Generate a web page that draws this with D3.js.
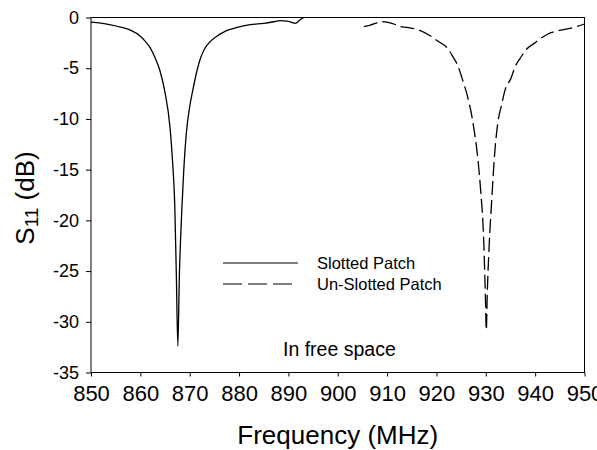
<!DOCTYPE html>
<html>
<head>
<meta charset="utf-8">
<script src="https://cdn.jsdelivr.net/npm/d3@7/dist/d3.min.js"></script>
<style>
  body { margin: 0; background: #fff; }
  text { font-family: Arial, "Liberation Sans", sans-serif; fill: #000; }
</style>
</head>
<body>
<div id="chart"></div>
<script>
// return loss of the two patches (MHz, dB)
var slottedFreq = [850, 852, 854, 856, 858, 860, 861, 862, 863, 864, 865, 866, 866.5, 867, 867.3, 867.6,
                   867.9, 868.4, 868.8, 869.3, 870, 870.7, 871.5, 872.2, 873, 874.1, 875.5, 876.8, 878,
                   879.6, 882.3, 885, 887, 888.3, 889.7, 890.5, 891.4, 892.3, 893.1];
var slottedS11 = [-0.45, -0.55, -0.72, -0.95, -1.25, -1.85, -2.35, -3.0, -4.0, -5.3, -7.4, -10.8, -14, -19, -25.6, -32.4,
                  -25.6, -19, -15, -11.5, -8.8, -7.0, -5.2, -4.0, -3.1, -2.4, -1.85, -1.46, -1.2,
                  -0.97, -0.71, -0.57, -0.42, -0.31, -0.35, -0.45, -0.57, -0.25, 0];

var unslottedFreq = [905.3, 906.6, 909, 911.3, 912.7, 914, 916.4, 918.8, 920.5, 922.2, 923.5, 924.2, 925.2, 926.2,
                     927.2, 927.6, 928.2, 928.9, 929.6, 929.9, 930.1, 930.3, 930.7, 931.2, 931.8, 932.4, 933.2,
                     934, 935, 936, 937, 938.3, 939.8, 941, 942.5, 945.2, 947.9, 950];
var unslottedS11 = [-0.9, -0.74, -0.41, -0.64, -0.9, -0.97, -1.23, -1.82, -2.4, -3.0, -4.0, -4.6, -6.0, -7.6,
                    -9.8, -11.0, -13.1, -16.7, -22.3, -27.2, -30.8, -27.2, -22.3, -18, -13.4, -10.5, -8.6,
                    -7.0, -6.1, -4.8, -4.0, -3.1, -2.55, -2.1, -1.65, -1.25, -0.97, -0.64];

var xTicks = [850, 860, 870, 880, 890, 900, 910, 920, 930, 940, 950];
var yTicks = [-35, -30, -25, -20, -15, -10, -5, 0];
var seriesNames = ["Slotted Patch", "Un-Slotted Patch"];

var w = 597, h = 450;
var pLeft = 91, pRight = 584.5, pTop = 17.5, pBottom = 372.5;

var svg = d3.select("#chart").append("svg")
    .attr("width", w).attr("height", h);

var x = d3.scaleLinear().domain([850, 950]).range([pLeft, pRight]);
var y = d3.scaleLinear().domain([-35, 0]).range([pBottom, pTop]);

// axes (plain hyphen for negatives, like the original)
var plain = function(d) { return String(d); };

var xAxis = svg.append("g")
    .attr("transform", "translate(0," + pBottom + ")")
    .call(d3.axisBottom(x).tickValues(xTicks).tickFormat(plain)
          .tickSize(4).tickPadding(9).tickSizeOuter(0));
xAxis.selectAll("text").style("font-size", "22px");

var yAxis = svg.append("g")
    .attr("transform", "translate(" + pLeft + ",0)")
    .call(d3.axisLeft(y).tickValues(yTicks).tickFormat(plain)
          .tickSize(5).tickPadding(7).tickSizeOuter(0));
yAxis.selectAll("text").style("font-size", "18px");

svg.selectAll(".domain").remove();
svg.selectAll(".tick line").attr("stroke", "#000");

// frame
svg.append("rect")
    .attr("x", pLeft).attr("y", pTop)
    .attr("width", pRight - pLeft).attr("height", pBottom - pTop)
    .attr("fill", "none").attr("stroke", "#000").attr("stroke-width", 1);

var line = d3.line()
    .x(function(d) { return x(d[0]); })
    .y(function(d) { return y(d[1]); })
    .curve(d3.curveMonotoneX);

svg.append("path")
    .datum(d3.zip(slottedFreq, slottedS11))
    .attr("d", line)
    .attr("fill", "none").attr("stroke", "#000").attr("stroke-width", 1.3);

svg.append("path")
    .datum(d3.zip(unslottedFreq, unslottedS11))
    .attr("d", line)
    .attr("fill", "none").attr("stroke", "#000").attr("stroke-width", 1.3)
    .attr("stroke-dasharray", "14,5");

// legend
var legend = svg.append("g");
seriesNames.forEach(function(name, i) {
  var ly = 263 + i * 21;
  legend.append("line")
      .attr("x1", 223).attr("x2", i == 1 ? 292 : 298).attr("y1", ly).attr("y2", ly)
      .attr("stroke", "#555").attr("stroke-width", 1.3)
      .attr("stroke-dasharray", i == 1 ? "19,6" : null);
  legend.append("text")
      .attr("x", 317).attr("y", ly + 6)
      .style("font-size", "16.5px")
      .text(name);
});

svg.append("text")
    .attr("x", 283).attr("y", 356)
    .style("font-size", "19.5px")
    .text("In free space");

// axis titles
svg.append("text")
    .attr("x", (pLeft + pRight) / 2).attr("y", 444)
    .attr("text-anchor", "middle")
    .style("font-size", "26px")
    .text("Frequency (MHz)");

var yt = svg.append("text")
    .attr("transform", "translate(34,198) rotate(-90)")
    .attr("text-anchor", "middle")
    .style("font-size", "26px");
yt.append("tspan").text("S");
yt.append("tspan").attr("dy", 4).style("font-size", "19px").text("11");
yt.append("tspan").attr("dy", -4).text(" (dB)");
</script>
</body>
</html>
